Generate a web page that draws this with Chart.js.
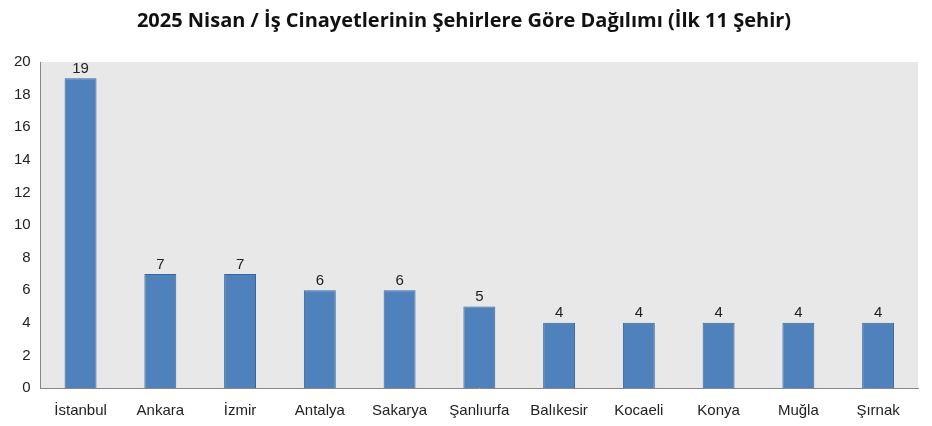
<!DOCTYPE html>
<html><head><meta charset="utf-8">
<script src="https://cdn.jsdelivr.net/npm/chart.js@4/dist/chart.umd.min.js"></script>
<style>html,body{margin:0;background:#fff}#wrap{width:932px;height:426px}</style>
</head><body><div id="wrap"><canvas id="c"></canvas></div>
<script>
// Data
const cities = ['İstanbul', 'Ankara', 'İzmir', 'Antalya', 'Sakarya', 'Şanlıurfa', 'Balıkesir', 'Kocaeli', 'Konya', 'Muğla', 'Şırnak'];
const counts = [19, 7, 7, 6, 6, 5, 4, 4, 4, 4, 4];

// Gray plot area + value labels
const plotBg = {
    id: 'plotBg',
    beforeDraw(chart) {
        const { ctx, chartArea: a } = chart;
        ctx.save();
        ctx.fillStyle = '#e8e8e8';
        ctx.fillRect(a.left, a.top, a.right - a.left, a.bottom - a.top);
        ctx.restore();
    },
    afterDatasetsDraw(chart) {
        const { ctx } = chart;
        ctx.save();
        ctx.fillStyle = '#222';
        ctx.font = '15px "Liberation Sans", Arial, sans-serif';
        ctx.textAlign = 'center';
        ctx.textBaseline = 'bottom';
        chart.getDatasetMeta(0).data.forEach((bar, i) => {
            ctx.fillText(counts[i], bar.x, bar.y - 2);
        });
        ctx.restore();
    }
};

const font = { family: '"Liberation Sans", Arial, sans-serif', size: 15 };
new Chart(document.getElementById('c'), {
    type: 'bar',
    data: {
        labels: cities,
        datasets: [{ data: counts, backgroundColor: '#4f81bd', borderColor: '#3a6595', borderWidth: 1, barPercentage: 0.4, categoryPercentage: 1 }]
    },
    options: {
        responsive: true,
        maintainAspectRatio: false,
        animation: false,
        layout: { padding: { left: 10, right: 14, top: 0, bottom: 0 } },
        plugins: {
            legend: { display: false },
            tooltip: { enabled: false },
            title: {
                display: true,
                text: '2025 Nisan / İş Cinayetlerinin Şehirlere Göre Dağılımı (İlk 11 Şehir)',
                color: '#111',
                font: { family: '"Open Sans", sans-serif', size: 20, weight: 'bold' },
                padding: { top: 9, bottom: 29 }
            }
        },
        scales: {
            x: {
                grid: { display: false, drawTicks: true },
                border: { color: '#888' },
                ticks: { color: '#222', font, padding: 6 }
            },
            y: {
                min: 0, max: 20,
                grid: { display: false, drawTicks: true, tickLength: 6, color: '#888' },
                border: { color: '#888' },
                ticks: { stepSize: 2, color: '#222', font, padding: 4 }
            }
        }
    },
    plugins: [plotBg]
});
</script></body></html>
